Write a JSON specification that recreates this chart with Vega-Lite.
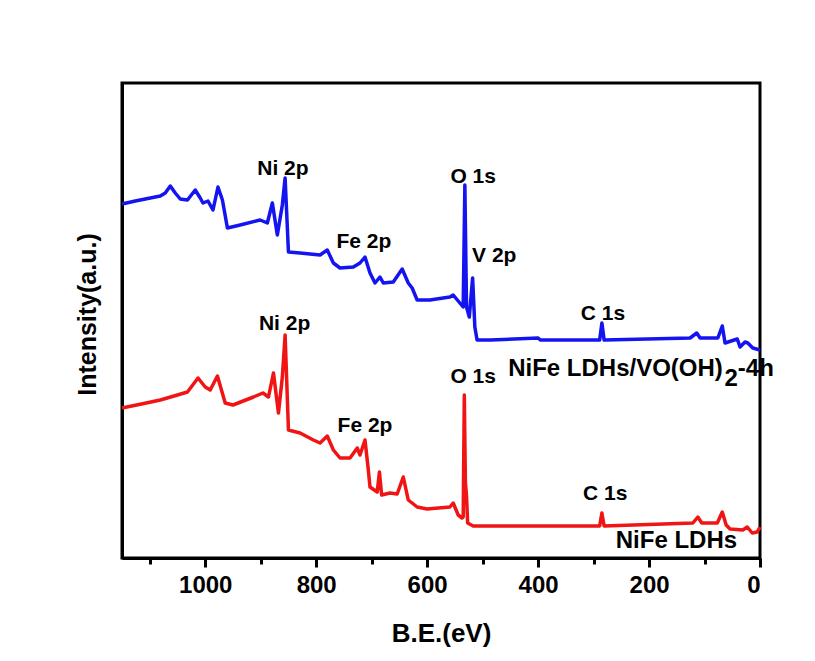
{
  "$schema": "https://vega.github.io/schema/vega-lite/v6.json",
  "width": 638,
  "height": 475,
  "autosize": {"type": "none"},
  "padding": {"left": 122, "top": 83, "right": 55, "bottom": 103},
  "background": "white",
  "config": {"view": {"stroke": "black", "strokeWidth": 3}, "font": "Liberation Sans"},
  "datasets": {
    "spectra": [
      {"sample": "NiFe LDHs/VO(OH)2-4h", "be": 1150, "intensity": 354},
      {"sample": "NiFe LDHs/VO(OH)2-4h", "be": 1126, "intensity": 357},
      {"sample": "NiFe LDHs/VO(OH)2-4h", "be": 1099, "intensity": 360},
      {"sample": "NiFe LDHs/VO(OH)2-4h", "be": 1081, "intensity": 362},
      {"sample": "NiFe LDHs/VO(OH)2-4h", "be": 1072, "intensity": 365},
      {"sample": "NiFe LDHs/VO(OH)2-4h", "be": 1063, "intensity": 372},
      {"sample": "NiFe LDHs/VO(OH)2-4h", "be": 1054, "intensity": 365},
      {"sample": "NiFe LDHs/VO(OH)2-4h", "be": 1045, "intensity": 359},
      {"sample": "NiFe LDHs/VO(OH)2-4h", "be": 1032, "intensity": 358},
      {"sample": "NiFe LDHs/VO(OH)2-4h", "be": 1018, "intensity": 368},
      {"sample": "NiFe LDHs/VO(OH)2-4h", "be": 1009, "intensity": 360},
      {"sample": "NiFe LDHs/VO(OH)2-4h", "be": 1004, "intensity": 355},
      {"sample": "NiFe LDHs/VO(OH)2-4h", "be": 995, "intensity": 357},
      {"sample": "NiFe LDHs/VO(OH)2-4h", "be": 986, "intensity": 348},
      {"sample": "NiFe LDHs/VO(OH)2-4h", "be": 977, "intensity": 371},
      {"sample": "NiFe LDHs/VO(OH)2-4h", "be": 969, "intensity": 358},
      {"sample": "NiFe LDHs/VO(OH)2-4h", "be": 960, "intensity": 330},
      {"sample": "NiFe LDHs/VO(OH)2-4h", "be": 937, "intensity": 333},
      {"sample": "NiFe LDHs/VO(OH)2-4h", "be": 901, "intensity": 338},
      {"sample": "NiFe LDHs/VO(OH)2-4h", "be": 888, "intensity": 335},
      {"sample": "NiFe LDHs/VO(OH)2-4h", "be": 879, "intensity": 355},
      {"sample": "NiFe LDHs/VO(OH)2-4h", "be": 870, "intensity": 323},
      {"sample": "NiFe LDHs/VO(OH)2-4h", "be": 861, "intensity": 353},
      {"sample": "NiFe LDHs/VO(OH)2-4h", "be": 856, "intensity": 380},
      {"sample": "NiFe LDHs/VO(OH)2-4h", "be": 850, "intensity": 306},
      {"sample": "NiFe LDHs/VO(OH)2-4h", "be": 829, "intensity": 305},
      {"sample": "NiFe LDHs/VO(OH)2-4h", "be": 793, "intensity": 303},
      {"sample": "NiFe LDHs/VO(OH)2-4h", "be": 780, "intensity": 308},
      {"sample": "NiFe LDHs/VO(OH)2-4h", "be": 769, "intensity": 295},
      {"sample": "NiFe LDHs/VO(OH)2-4h", "be": 757, "intensity": 290},
      {"sample": "NiFe LDHs/VO(OH)2-4h", "be": 733, "intensity": 291},
      {"sample": "NiFe LDHs/VO(OH)2-4h", "be": 721, "intensity": 295},
      {"sample": "NiFe LDHs/VO(OH)2-4h", "be": 712, "intensity": 301},
      {"sample": "NiFe LDHs/VO(OH)2-4h", "be": 703, "intensity": 285},
      {"sample": "NiFe LDHs/VO(OH)2-4h", "be": 694, "intensity": 275},
      {"sample": "NiFe LDHs/VO(OH)2-4h", "be": 685, "intensity": 281},
      {"sample": "NiFe LDHs/VO(OH)2-4h", "be": 679, "intensity": 275},
      {"sample": "NiFe LDHs/VO(OH)2-4h", "be": 661, "intensity": 276},
      {"sample": "NiFe LDHs/VO(OH)2-4h", "be": 645, "intensity": 289},
      {"sample": "NiFe LDHs/VO(OH)2-4h", "be": 634, "intensity": 275},
      {"sample": "NiFe LDHs/VO(OH)2-4h", "be": 627, "intensity": 270},
      {"sample": "NiFe LDHs/VO(OH)2-4h", "be": 618, "intensity": 258},
      {"sample": "NiFe LDHs/VO(OH)2-4h", "be": 595, "intensity": 258},
      {"sample": "NiFe LDHs/VO(OH)2-4h", "be": 559, "intensity": 261},
      {"sample": "NiFe LDHs/VO(OH)2-4h", "be": 553, "intensity": 263},
      {"sample": "NiFe LDHs/VO(OH)2-4h", "be": 541, "intensity": 255},
      {"sample": "NiFe LDHs/VO(OH)2-4h", "be": 535, "intensity": 251},
      {"sample": "NiFe LDHs/VO(OH)2-4h", "be": 532, "intensity": 373},
      {"sample": "NiFe LDHs/VO(OH)2-4h", "be": 529, "intensity": 251},
      {"sample": "NiFe LDHs/VO(OH)2-4h", "be": 524, "intensity": 241},
      {"sample": "NiFe LDHs/VO(OH)2-4h", "be": 518, "intensity": 280},
      {"sample": "NiFe LDHs/VO(OH)2-4h", "be": 514, "intensity": 231},
      {"sample": "NiFe LDHs/VO(OH)2-4h", "be": 510, "intensity": 218},
      {"sample": "NiFe LDHs/VO(OH)2-4h", "be": 486, "intensity": 218},
      {"sample": "NiFe LDHs/VO(OH)2-4h", "be": 400, "intensity": 220},
      {"sample": "NiFe LDHs/VO(OH)2-4h", "be": 396, "intensity": 218},
      {"sample": "NiFe LDHs/VO(OH)2-4h", "be": 289, "intensity": 218},
      {"sample": "NiFe LDHs/VO(OH)2-4h", "be": 285, "intensity": 235},
      {"sample": "NiFe LDHs/VO(OH)2-4h", "be": 281, "intensity": 218},
      {"sample": "NiFe LDHs/VO(OH)2-4h", "be": 126, "intensity": 220},
      {"sample": "NiFe LDHs/VO(OH)2-4h", "be": 114, "intensity": 225},
      {"sample": "NiFe LDHs/VO(OH)2-4h", "be": 108, "intensity": 220},
      {"sample": "NiFe LDHs/VO(OH)2-4h", "be": 76, "intensity": 220},
      {"sample": "NiFe LDHs/VO(OH)2-4h", "be": 68, "intensity": 232},
      {"sample": "NiFe LDHs/VO(OH)2-4h", "be": 63, "intensity": 215},
      {"sample": "NiFe LDHs/VO(OH)2-4h", "be": 41, "intensity": 219},
      {"sample": "NiFe LDHs/VO(OH)2-4h", "be": 36, "intensity": 211},
      {"sample": "NiFe LDHs/VO(OH)2-4h", "be": 27, "intensity": 216},
      {"sample": "NiFe LDHs/VO(OH)2-4h", "be": 22, "intensity": 215},
      {"sample": "NiFe LDHs/VO(OH)2-4h", "be": 13, "intensity": 210},
      {"sample": "NiFe LDHs/VO(OH)2-4h", "be": 0, "intensity": 208},
      {"sample": "NiFe LDHs", "be": 1150, "intensity": 150},
      {"sample": "NiFe LDHs", "be": 1115, "intensity": 154},
      {"sample": "NiFe LDHs", "be": 1081, "intensity": 158},
      {"sample": "NiFe LDHs", "be": 1050, "intensity": 163},
      {"sample": "NiFe LDHs", "be": 1032, "intensity": 166},
      {"sample": "NiFe LDHs", "be": 1013, "intensity": 180},
      {"sample": "NiFe LDHs", "be": 1000, "intensity": 171},
      {"sample": "NiFe LDHs", "be": 991, "intensity": 168},
      {"sample": "NiFe LDHs", "be": 978, "intensity": 182},
      {"sample": "NiFe LDHs", "be": 964, "intensity": 155},
      {"sample": "NiFe LDHs", "be": 950, "intensity": 153},
      {"sample": "NiFe LDHs", "be": 913, "intensity": 161},
      {"sample": "NiFe LDHs", "be": 896, "intensity": 165},
      {"sample": "NiFe LDHs", "be": 886, "intensity": 161},
      {"sample": "NiFe LDHs", "be": 877, "intensity": 185},
      {"sample": "NiFe LDHs", "be": 868, "intensity": 145},
      {"sample": "NiFe LDHs", "be": 861, "intensity": 181},
      {"sample": "NiFe LDHs", "be": 856, "intensity": 223},
      {"sample": "NiFe LDHs", "be": 850, "intensity": 128},
      {"sample": "NiFe LDHs", "be": 829, "intensity": 125},
      {"sample": "NiFe LDHs", "be": 805, "intensity": 118},
      {"sample": "NiFe LDHs", "be": 793, "intensity": 115},
      {"sample": "NiFe LDHs", "be": 780, "intensity": 122},
      {"sample": "NiFe LDHs", "be": 769, "intensity": 108},
      {"sample": "NiFe LDHs", "be": 757, "intensity": 100},
      {"sample": "NiFe LDHs", "be": 739, "intensity": 100},
      {"sample": "NiFe LDHs", "be": 726, "intensity": 110},
      {"sample": "NiFe LDHs", "be": 721, "intensity": 103},
      {"sample": "NiFe LDHs", "be": 712, "intensity": 118},
      {"sample": "NiFe LDHs", "be": 706, "intensity": 88},
      {"sample": "NiFe LDHs", "be": 703, "intensity": 71},
      {"sample": "NiFe LDHs", "be": 690, "intensity": 66},
      {"sample": "NiFe LDHs", "be": 686, "intensity": 86},
      {"sample": "NiFe LDHs", "be": 682, "intensity": 63},
      {"sample": "NiFe LDHs", "be": 667, "intensity": 65},
      {"sample": "NiFe LDHs", "be": 654, "intensity": 64},
      {"sample": "NiFe LDHs", "be": 643, "intensity": 81},
      {"sample": "NiFe LDHs", "be": 634, "intensity": 58},
      {"sample": "NiFe LDHs", "be": 618, "intensity": 51},
      {"sample": "NiFe LDHs", "be": 600, "intensity": 49},
      {"sample": "NiFe LDHs", "be": 559, "intensity": 51},
      {"sample": "NiFe LDHs", "be": 553, "intensity": 55},
      {"sample": "NiFe LDHs", "be": 544, "intensity": 43},
      {"sample": "NiFe LDHs", "be": 537, "intensity": 40},
      {"sample": "NiFe LDHs", "be": 535, "intensity": 41},
      {"sample": "NiFe LDHs", "be": 533, "intensity": 163},
      {"sample": "NiFe LDHs", "be": 531, "intensity": 75},
      {"sample": "NiFe LDHs", "be": 529, "intensity": 62},
      {"sample": "NiFe LDHs", "be": 527, "intensity": 35},
      {"sample": "NiFe LDHs", "be": 517, "intensity": 32},
      {"sample": "NiFe LDHs", "be": 289, "intensity": 32},
      {"sample": "NiFe LDHs", "be": 285, "intensity": 45},
      {"sample": "NiFe LDHs", "be": 281, "intensity": 32},
      {"sample": "NiFe LDHs", "be": 121, "intensity": 35},
      {"sample": "NiFe LDHs", "be": 112, "intensity": 41},
      {"sample": "NiFe LDHs", "be": 105, "intensity": 35},
      {"sample": "NiFe LDHs", "be": 77, "intensity": 35},
      {"sample": "NiFe LDHs", "be": 68, "intensity": 46},
      {"sample": "NiFe LDHs", "be": 61, "intensity": 33},
      {"sample": "NiFe LDHs", "be": 54, "intensity": 29},
      {"sample": "NiFe LDHs", "be": 31, "intensity": 28},
      {"sample": "NiFe LDHs", "be": 23, "intensity": 31},
      {"sample": "NiFe LDHs", "be": 14, "intensity": 25},
      {"sample": "NiFe LDHs", "be": 5, "intensity": 26},
      {"sample": "NiFe LDHs", "be": 0, "intensity": 31}
    ],
    "peaks": [
      {"label": "Ni 2p", "be": 860, "intensity": 383},
      {"label": "O 1s", "be": 517, "intensity": 375},
      {"label": "V 2p", "be": 479, "intensity": 296},
      {"label": "Fe 2p", "be": 714, "intensity": 310},
      {"label": "C 1s", "be": 283, "intensity": 238},
      {"label": "Ni 2p", "be": 857, "intensity": 228},
      {"label": "O 1s", "be": 517, "intensity": 175},
      {"label": "Fe 2p", "be": 712, "intensity": 126},
      {"label": "C 1s", "be": 279, "intensity": 58}
    ],
    "names": [
      {"text": "NiFe LDHs/VO(OH)", "be": 454, "intensity": 182},
      {"text": "2", "be": 64, "intensity": 172},
      {"text": "-4h", "be": 40, "intensity": 182},
      {"text": "NiFe LDHs", "be": 260, "intensity": 10}
    ]
  },
  "layer": [
    {
      "data": {"name": "spectra"},
      "mark": {"type": "line", "strokeWidth": 3.5, "strokeJoin": "round"},
      "encoding": {
        "x": {
          "field": "be", "type": "quantitative",
          "scale": {"domain": [1150, 0], "nice": false, "zero": false},
          "axis": {
            "title": "B.E.(eV)",
            "values": [0, 100, 200, 300, 400, 500, 600, 700, 800, 900, 1000, 1100],
            "format": "d",
            "labelExpr": "datum.value % 200 === 0 ? datum.label : ''",
            "tickSize": {"condition": {"test": "datum.value % 200 === 0", "value": 9}, "value": 6},
            "tickWidth": 3, "tickColor": "black",
            "domainColor": "black", "domainWidth": 3,
            "labelFontSize": 24, "labelFontWeight": "bold", "labelColor": "black",
            "labelPadding": 6, "labelOverlap": false,
            "titleFontSize": 26, "titleFontWeight": "bold", "titleColor": "black",
            "titleBaseline": "alphabetic", "titleY": 83,
            "grid": false
          }
        },
        "y": {
          "field": "intensity", "type": "quantitative",
          "scale": {"domain": [0, 475], "nice": false, "zero": false},
          "axis": {
            "title": "Intensity(a.u.)",
            "ticks": false, "labels": false, "grid": false,
            "domainColor": "black", "domainWidth": 3,
            "titleFontSize": 25, "titleFontWeight": "bold", "titleColor": "black",
            "titleX": -27, "titleY": 231, "titleAngle": 270,
            "titleBaseline": "alphabetic", "titleAlign": "center"
          }
        },
        "color": {
          "field": "sample", "type": "nominal",
          "scale": {"domain": ["NiFe LDHs/VO(OH)2-4h", "NiFe LDHs"], "range": ["#1414F0", "#F01414"]},
          "legend": null
        }
      }
    },
    {
      "data": {"name": "peaks"},
      "mark": {"type": "text", "fontSize": 21, "fontWeight": "bold", "align": "center", "baseline": "alphabetic", "color": "black"},
      "encoding": {
        "x": {"field": "be", "type": "quantitative"},
        "y": {"field": "intensity", "type": "quantitative"},
        "text": {"field": "label"}
      }
    },
    {
      "data": {"name": "names"},
      "mark": {"type": "text", "fontSize": 24, "fontWeight": "bold", "align": "left", "baseline": "alphabetic", "color": "black"},
      "encoding": {
        "x": {"field": "be", "type": "quantitative"},
        "y": {"field": "intensity", "type": "quantitative"},
        "text": {"field": "text"}
      }
    }
  ]
}
